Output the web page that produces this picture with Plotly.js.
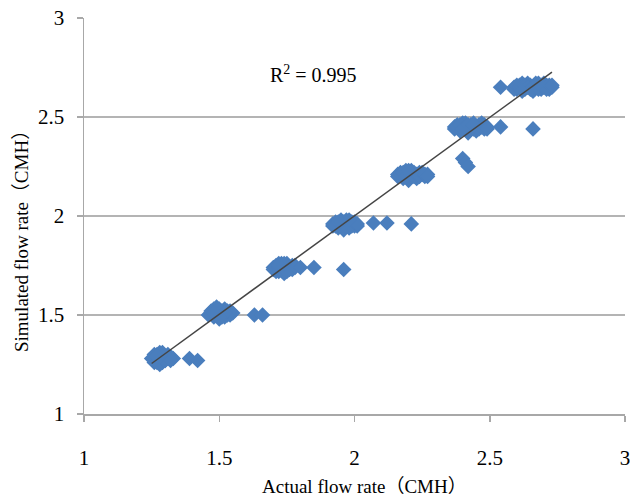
<!DOCTYPE html>
<html>
<head>
<meta charset="utf-8">
<script src="https://cdn.plot.ly/plotly-3.0.1.min.js"></script>
<style>
  html, body { margin: 0; padding: 0; background: #ffffff; }
  #chart { width: 630px; height: 499px; }
</style>
</head>
<body>
<div id="chart"></div>
<script>
// Actual vs simulated flow rate (CMH)
var actualFlow = [
  // cluster ~1.28
  1.26, 1.27, 1.28, 1.29, 1.30, 1.27, 1.28, 1.29, 1.31, 1.33, 1.26, 1.28, 1.30, 1.32,
  1.25, 1.26, 1.27, 1.29, 1.30, 1.31, 1.32, 1.28, 1.29, 1.27, 1.39, 1.42,
  // cluster ~1.51
  1.47, 1.48, 1.49, 1.50, 1.51, 1.52, 1.53, 1.55, 1.48, 1.50, 1.52, 1.54, 1.49, 1.51,
  1.46, 1.47, 1.49, 1.50, 1.51, 1.53, 1.53, 1.54, 1.52, 1.50, 1.48, 1.63, 1.66,
  // cluster ~1.74
  1.70, 1.71, 1.72, 1.73, 1.74, 1.75, 1.76, 1.78, 1.72, 1.74, 1.76, 1.73, 1.71, 1.75,
  1.70, 1.71, 1.72, 1.73, 1.74, 1.75, 1.77, 1.77, 1.78, 1.74, 1.72, 1.80, 1.85, 1.96,
  // cluster ~1.96
  1.92, 1.93, 1.95, 1.96, 1.97, 1.99, 2.00, 2.01, 1.94, 1.96, 1.98, 2.00, 1.95, 1.97,
  1.92, 1.93, 1.94, 1.96, 1.97, 1.98, 1.99, 2.00, 2.01, 1.95, 1.98, 2.07, 2.12, 2.21,
  // cluster ~2.21
  2.16, 2.17, 2.19, 2.20, 2.21, 2.22, 2.24, 2.25, 2.27, 2.18, 2.20, 2.23, 2.26, 2.21,
  2.16, 2.17, 2.18, 2.19, 2.21, 2.22, 2.23, 2.24, 2.25, 2.26, 2.27, 2.20, 2.40, 2.41, 2.42,
  // cluster ~2.45
  2.37, 2.38, 2.40, 2.41, 2.43, 2.44, 2.46, 2.47, 2.49, 2.39, 2.42, 2.45, 2.48, 2.44,
  2.37, 2.38, 2.39, 2.40, 2.41, 2.42, 2.43, 2.45, 2.46, 2.47, 2.48, 2.49, 2.44, 2.54, 2.66,
  // cluster ~2.66
  2.59, 2.61, 2.62, 2.64, 2.65, 2.67, 2.68, 2.70, 2.71, 2.73, 2.60, 2.63, 2.66, 2.69, 2.72,
  2.59, 2.60, 2.61, 2.62, 2.63, 2.64, 2.65, 2.66, 2.67, 2.68, 2.69, 2.70, 2.71, 2.72, 2.73, 2.62, 2.68, 2.54
];
var simulatedFlow = [
  1.29, 1.30, 1.31, 1.30, 1.29, 1.27, 1.28, 1.26, 1.28, 1.28, 1.26, 1.25, 1.27, 1.29,
  1.28, 1.30, 1.26, 1.28, 1.27, 1.30, 1.27, 1.29, 1.31, 1.29, 1.28, 1.27,
  1.51, 1.53, 1.52, 1.53, 1.52, 1.53, 1.51, 1.51, 1.49, 1.48, 1.49, 1.50, 1.50, 1.51,
  1.50, 1.52, 1.54, 1.51, 1.49, 1.50, 1.52, 1.52, 1.51, 1.49, 1.51, 1.50, 1.50,
  1.74, 1.75, 1.76, 1.76, 1.75, 1.76, 1.74, 1.74, 1.72, 1.71, 1.73, 1.73, 1.72, 1.74,
  1.73, 1.74, 1.74, 1.75, 1.74, 1.72, 1.75, 1.73, 1.75, 1.76, 1.75, 1.74, 1.74, 1.73,
  1.96, 1.97, 1.98, 1.97, 1.98, 1.97, 1.96, 1.95, 1.94, 1.93, 1.94, 1.95, 1.95, 1.96,
  1.95, 1.95, 1.97, 1.95, 1.95, 1.96, 1.95, 1.97, 1.96, 1.97, 1.98, 1.965, 1.965, 1.96,
  2.21, 2.22, 2.23, 2.22, 2.23, 2.22, 2.22, 2.21, 2.21, 2.19, 2.18, 2.19, 2.20, 2.20,
  2.20, 2.21, 2.22, 2.20, 2.21, 2.20, 2.21, 2.20, 2.22, 2.21, 2.20, 2.23, 2.29, 2.27, 2.25,
  2.45, 2.46, 2.47, 2.47, 2.46, 2.47, 2.46, 2.47, 2.45, 2.43, 2.42, 2.43, 2.44, 2.44,
  2.44, 2.45, 2.46, 2.44, 2.45, 2.46, 2.44, 2.45, 2.44, 2.45, 2.46, 2.44, 2.46, 2.45, 2.44,
  2.65, 2.66, 2.67, 2.67, 2.66, 2.67, 2.66, 2.67, 2.66, 2.65, 2.64, 2.64, 2.63, 2.64, 2.64,
  2.64, 2.66, 2.65, 2.65, 2.66, 2.65, 2.64, 2.65, 2.65, 2.64, 2.66, 2.65, 2.64, 2.66, 2.66, 2.63, 2.67, 2.65
];
// Linear trend line end points
var trendX = [1.25, 2.73];
var trendY = [1.255, 2.727];
var rSquared = 0.995;
var axisTicks = [1, 1.5, 2, 2.5, 3];
var xTitle = 'Actual flow rate（CMH）';
var yTitle = 'Simulated flow rate（CMH）';

var fontFamily = '"Liberation Serif", "Times New Roman", "Noto Sans CJK SC", serif';

var traces = [
  {
    x: actualFlow,
    y: simulatedFlow,
    type: 'scatter',
    mode: 'markers',
    marker: { symbol: 'diamond', size: 12, color: '#4a7ebd', line: { width: 0 } },
    hoverinfo: 'x+y',
    showlegend: false
  },
  {
    x: trendX,
    y: trendY,
    type: 'scatter',
    mode: 'lines',
    line: { color: '#454545', width: 1.5 },
    hoverinfo: 'skip',
    showlegend: false
  }
];

var layout = {
  width: 630,
  height: 499,
  margin: { l: 84, r: 5, t: 18, b: 85 },
  paper_bgcolor: '#ffffff',
  plot_bgcolor: '#ffffff',
  font: { family: fontFamily, color: '#000000', size: 20 },
  showlegend: false,
  xaxis: {
    range: [1, 3],
    tickvals: axisTicks,
    ticktext: axisTicks.map(String),
    showgrid: false,
    zeroline: false,
    showline: true,
    linecolor: '#a8a8a8',
    linewidth: 1.5,
    ticks: 'outside',
    ticklen: 6,
    tickcolor: '#a8a8a8',
    tickwidth: 1.5,
    ticklabelstandoff: 18,
    ticklabeloverflow: 'allow',
    tickfont: { family: fontFamily, size: 21, color: '#000000' },
    fixedrange: true
  },
  yaxis: {
    range: [1, 3],
    tickvals: axisTicks,
    ticktext: axisTicks.map(String),
    showgrid: true,
    gridcolor: '#b4b4b4',
    gridwidth: 1.5,
    zeroline: false,
    showline: true,
    linecolor: '#a8a8a8',
    linewidth: 1.5,
    ticks: 'outside',
    ticklen: 6,
    tickcolor: '#a8a8a8',
    tickwidth: 1.5,
    ticklabelstandoff: 8,
    tickfont: { family: fontFamily, size: 21, color: '#000000' },
    fixedrange: true
  },
  annotations: [
    {
      text: 'R<sup>2</sup> = ' + rSquared,
      xref: 'paper', yref: 'paper',
      x: (313 - 84) / 541, y: (414 - 74) / 396,
      xanchor: 'center', yanchor: 'middle',
      showarrow: false,
      font: { family: fontFamily, size: 20, color: '#000000' }
    },
    {
      text: xTitle,
      xref: 'paper', yref: 'paper',
      x: (364 - 84) / 541, y: (414 - 487) / 396,
      xanchor: 'center', yanchor: 'middle',
      showarrow: false,
      font: { family: fontFamily, size: 19, color: '#000000' }
    },
    {
      text: yTitle,
      xref: 'paper', yref: 'paper',
      x: (22 - 84) / 541, y: (414 - 237) / 396,
      xanchor: 'center', yanchor: 'middle',
      textangle: -90,
      showarrow: false,
      font: { family: fontFamily, size: 19, color: '#000000' }
    }
  ]
};

Plotly.newPlot('chart', traces, layout, { displayModeBar: false, staticPlot: true });
</script>
</body>
</html>
